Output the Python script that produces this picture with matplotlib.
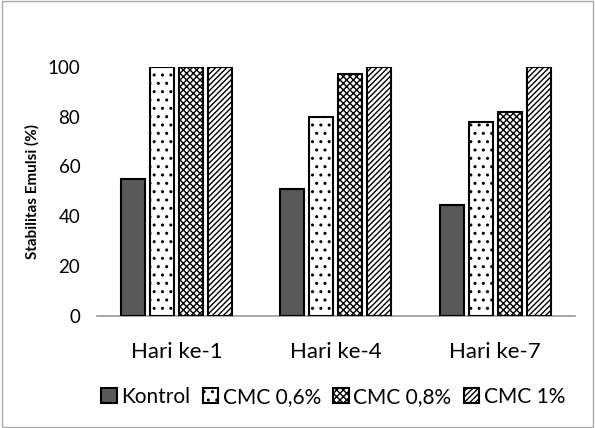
import matplotlib
matplotlib.use("Agg")
import matplotlib.pyplot as plt
import numpy as np
from matplotlib.patches import Rectangle

plt.rcParams['font.family'] = ['Lato', 'DejaVu Sans']
plt.rcParams['hatch.linewidth'] = 1.0

categories = ["Hari ke-1", "Hari ke-4", "Hari ke-7"]
series = ["Kontrol", "CMC 0,6%", "CMC 0,8%", "CMC 1%"]
kontrol = [55, 51, 44.5]
cmc06 = [100, 80, 78]
cmc08 = [100, 97, 82]
cmc1 = [100, 100, 100]
values = [kontrol, cmc06, cmc08, cmc1]
yticks = [0, 20, 40, 60, 80, 100]

faces = ["#595959", "white", "white", "white"]
hatches = [None, "..", "xxxxx", "//////"]

fig = plt.figure(figsize=(5.95, 4.28), dpi=100)
ax = fig.add_axes([0.163, 0.262, 0.803, 0.582])

x = np.arange(len(categories))
pitch = 0.182
width = 0.15
for i, (name, vals) in enumerate(zip(series, values)):
    off = (i - 1.5) * pitch
    ax.bar(x + off, vals, width, color=faces[i], edgecolor="black",
           linewidth=1.5, hatch=hatches[i], label=name, zorder=3)

ax.set_xlim(-0.5, 2.5)
ax.set_ylim(0, 100)
ax.set_yticks(yticks)
ax.set_xticks(x)
ax.set_xticklabels(categories, fontsize=16)
ax.tick_params(axis='y', labelsize=13.5, length=0, pad=12)
ax.tick_params(axis='x', length=0, pad=19)
for s in ["top", "right", "left"]:
    ax.spines[s].set_visible(False)
ax.spines["bottom"].set_color("#999999")
ax.spines["bottom"].set_linewidth(1.2)
ax.set_ylabel("Stabilitas Emulsi (%)", fontsize=11, fontweight="bold", labelpad=6)

leg = fig.legend(loc="center", bbox_to_anchor=(0.56, 0.073), ncol=4, frameon=False,
                 fontsize=15, handlelength=0.75, handleheight=0.75, handletextpad=0.2,
                 columnspacing=0.6)

fig.patches.append(Rectangle((0.003, 0.003), 0.994, 0.994, transform=fig.transFigure,
                             fill=False, edgecolor="#aaaaaa", linewidth=1))

fig.savefig("out.png", dpi=100)
